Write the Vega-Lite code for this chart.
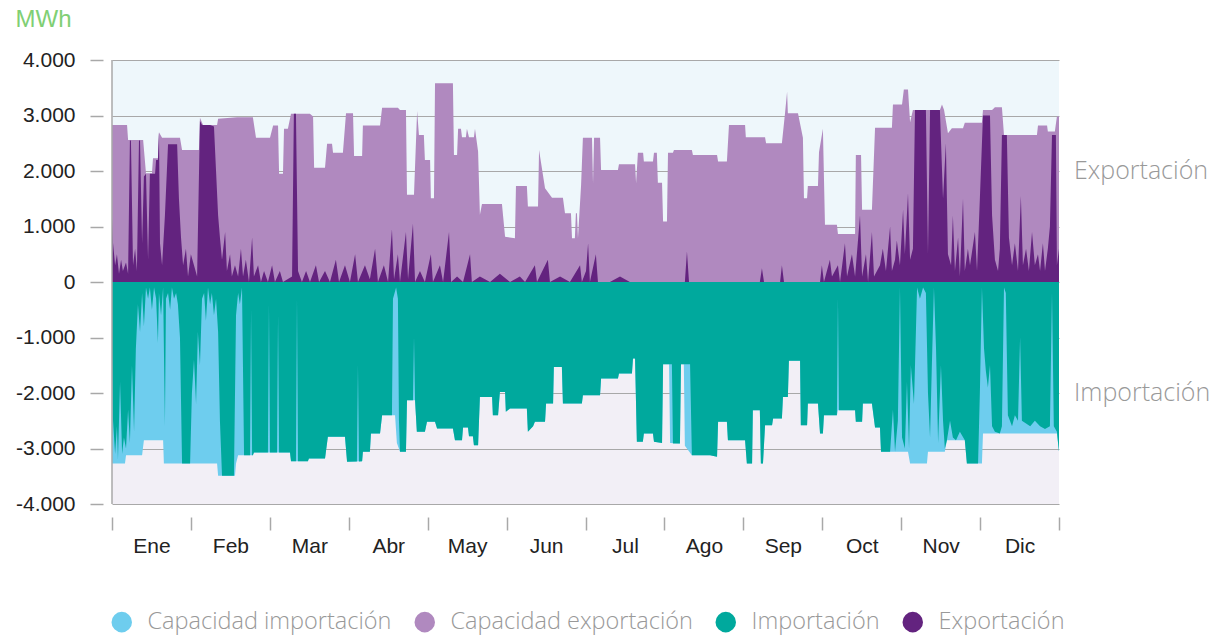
{
  "$schema": "https://vega.github.io/schema/vega-lite/v6.json",
  "width": 947,
  "height": 444,
  "autosize": {"type": "none"},
  "padding": {"left": 112, "top": 60, "right": 172, "bottom": 133},
  "background": "#ffffff",
  "view": {
    "stroke": null,
    "fill": {
      "gradient": "linear", "x1": 0, "y1": 0, "x2": 0, "y2": 1,
      "stops": [
        {"offset": 0, "color": "#eef7fb"},
        {"offset": 0.5, "color": "#eef7fb"},
        {"offset": 0.5, "color": "#f2eff6"},
        {"offset": 1, "color": "#f2eff6"}
      ]
    }
  },
  "config": {
    "font": "Liberation Sans",
    "legend": {
      "orient": "none",
      "legendX": -2,
      "legendY": 550,
      "direction": "horizontal",
      "symbolType": "circle",
      "symbolSize": 420,
      "symbolStrokeWidth": 0,
      "symbolOpacity": 1,
      "labelFont": "Open Sans",
      "labelFontWeight": 300,
      "labelFontSize": 23.5,
      "labelColor": "#999999",
      "labelOffset": 14,
      "columnPadding": 21,
      "labelLimit": 400
    }
  },
  "datasets": {
    "capExp": [
      {"dia":0,"mwh":2830},{"dia":5.8,"mwh":2830},{"dia":6.2,"mwh":2560},{"dia":12.0,"mwh":2560},{"dia":13.1,"mwh":1960},{"dia":15.4,"mwh":1960},{"dia":15.8,"mwh":2230},{"dia":17.7,"mwh":2230},{"dia":18.1,"mwh":2700},{"dia":19.3,"mwh":2600},{"dia":26.2,"mwh":2600},{"dia":27.0,"mwh":2380},{"dia":33.5,"mwh":2380},{"dia":33.9,"mwh":2960},{"dia":35.1,"mwh":2830},{"dia":40.5,"mwh":2830},{"dia":40.9,"mwh":2940},{"dia":48.2,"mwh":2970},{"dia":54.3,"mwh":2970},{"dia":55.5,"mwh":2600},{"dia":60.9,"mwh":2600},{"dia":62.1,"mwh":2820},{"dia":64.0,"mwh":2820},{"dia":64.4,"mwh":1950},{"dia":65.9,"mwh":1950},{"dia":66.3,"mwh":2760},{"dia":67.8,"mwh":2760},{"dia":69.0,"mwh":3030},{"dia":76.3,"mwh":3030},{"dia":77.5,"mwh":2980},{"dia":77.9,"mwh":2060},{"dia":82.1,"mwh":2060},{"dia":82.9,"mwh":2490},{"dia":84.8,"mwh":2490},{"dia":85.2,"mwh":2330},{"dia":89.0,"mwh":2330},{"dia":90.2,"mwh":3040},{"dia":92.9,"mwh":3040},{"dia":93.3,"mwh":2270},{"dia":96.4,"mwh":2270},{"dia":96.7,"mwh":2820},{"dia":103.3,"mwh":2820},{"dia":104.1,"mwh":3140},{"dia":110.2,"mwh":3140},{"dia":111.0,"mwh":3100},{"dia":113.3,"mwh":3100},{"dia":113.7,"mwh":1570},{"dia":116.4,"mwh":1570},{"dia":117.6,"mwh":3080},{"dia":118.3,"mwh":2650},{"dia":120.2,"mwh":2650},{"dia":120.6,"mwh":2200},{"dia":122.6,"mwh":2200},{"dia":122.9,"mwh":1510},{"dia":124.1,"mwh":1510},{"dia":124.5,"mwh":3580},{"dia":131.4,"mwh":3580},{"dia":131.8,"mwh":2290},{"dia":133.0,"mwh":2290},{"dia":133.4,"mwh":2760},{"dia":134.5,"mwh":2760},{"dia":134.9,"mwh":2610},{"dia":136.4,"mwh":2610},{"dia":136.8,"mwh":2760},{"dia":137.6,"mwh":2610},{"dia":139.5,"mwh":2610},{"dia":139.9,"mwh":2760},{"dia":141.1,"mwh":2350},{"dia":141.8,"mwh":1210},{"dia":142.6,"mwh":1405},{"dia":150.3,"mwh":1405},{"dia":151.5,"mwh":815},{"dia":155.3,"mwh":790},{"dia":155.7,"mwh":1730},{"dia":159.9,"mwh":1730},{"dia":160.3,"mwh":1360},{"dia":164.2,"mwh":1360},{"dia":164.6,"mwh":2380},{"dia":166.9,"mwh":1690},{"dia":169.6,"mwh":1520},{"dia":173.8,"mwh":1520},{"dia":174.6,"mwh":1240},{"dia":176.9,"mwh":1240},{"dia":177.3,"mwh":790},{"dia":178.4,"mwh":790},{"dia":178.8,"mwh":1240},{"dia":179.2,"mwh":1240},{"dia":179.6,"mwh":790},{"dia":180.8,"mwh":1750},{"dia":181.5,"mwh":2600},{"dia":185.0,"mwh":2600},{"dia":185.4,"mwh":1780},{"dia":185.8,"mwh":2600},{"dia":188.1,"mwh":2600},{"dia":188.5,"mwh":2020},{"dia":195.0,"mwh":2020},{"dia":195.4,"mwh":2120},{"dia":201.6,"mwh":2120},{"dia":202.0,"mwh":1780},{"dia":202.7,"mwh":2330},{"dia":204.7,"mwh":2330},{"dia":205.0,"mwh":2170},{"dia":208.5,"mwh":2170},{"dia":208.9,"mwh":2330},{"dia":210.0,"mwh":2330},{"dia":210.4,"mwh":1790},{"dia":212.0,"mwh":1790},{"dia":212.4,"mwh":1090},{"dia":213.9,"mwh":1090},{"dia":214.3,"mwh":2330},{"dia":216.2,"mwh":2330},{"dia":216.6,"mwh":2380},{"dia":223.5,"mwh":2380},{"dia":223.9,"mwh":2290},{"dia":233.2,"mwh":2290},{"dia":233.6,"mwh":2170},{"dia":237.0,"mwh":2170},{"dia":237.8,"mwh":2830},{"dia":244.0,"mwh":2830},{"dia":244.3,"mwh":2610},{"dia":251.7,"mwh":2610},{"dia":252.1,"mwh":2500},{"dia":258.2,"mwh":2500},{"dia":259.4,"mwh":3040},{"dia":260.2,"mwh":3430},{"dia":260.5,"mwh":3040},{"dia":264.4,"mwh":3040},{"dia":266.3,"mwh":2600},{"dia":266.7,"mwh":1510},{"dia":267.9,"mwh":1510},{"dia":268.2,"mwh":1730},{"dia":272.1,"mwh":1730},{"dia":272.5,"mwh":2340},{"dia":274.0,"mwh":2760},{"dia":274.8,"mwh":1030},{"dia":279.4,"mwh":1030},{"dia":279.8,"mwh":865},{"dia":286.4,"mwh":865},{"dia":286.7,"mwh":2290},{"dia":288.7,"mwh":2290},{"dia":289.1,"mwh":1300},{"dia":292.9,"mwh":1300},{"dia":294.1,"mwh":2780},{"dia":300.6,"mwh":2780},{"dia":301.0,"mwh":3200},{"dia":304.5,"mwh":3200},{"dia":305.2,"mwh":3470},{"dia":306.8,"mwh":3470},{"dia":307.6,"mwh":2880},{"dia":308.7,"mwh":3100},{"dia":319.1,"mwh":3100},{"dia":319.9,"mwh":3200},{"dia":320.7,"mwh":3100},{"dia":322.2,"mwh":2680},{"dia":323.7,"mwh":2770},{"dia":328.0,"mwh":2770},{"dia":328.7,"mwh":2870},{"dia":335.3,"mwh":2870},{"dia":335.7,"mwh":3100},{"dia":339.2,"mwh":3100},{"dia":340.3,"mwh":3150},{"dia":343.0,"mwh":3150},{"dia":343.8,"mwh":2650},{"dia":356.5,"mwh":2650},{"dia":356.9,"mwh":2820},{"dia":360.4,"mwh":2820},{"dia":360.7,"mwh":2710},{"dia":363.4,"mwh":2710},{"dia":364.2,"mwh":2980},{"dia":365,"mwh":2980}
    ],
    "exp": [
      {"dia":0,"mwh":1150},{"dia":0.4,"mwh":700},{"dia":1.2,"mwh":300},{"dia":1.9,"mwh":500},{"dia":2.7,"mwh":150},{"dia":3.5,"mwh":400},{"dia":4.2,"mwh":200},{"dia":5.4,"mwh":350},{"dia":6.2,"mwh":150},{"dia":6.9,"mwh":2550},{"dia":7.3,"mwh":2550},{"dia":8.1,"mwh":300},{"dia":8.9,"mwh":600},{"dia":9.6,"mwh":200},{"dia":10.4,"mwh":2550},{"dia":10.8,"mwh":2550},{"dia":11.6,"mwh":700},{"dia":12.3,"mwh":1900},{"dia":13.1,"mwh":1950},{"dia":13.9,"mwh":400},{"dia":14.6,"mwh":1950},{"dia":16.6,"mwh":1950},{"dia":17.0,"mwh":2200},{"dia":17.7,"mwh":2200},{"dia":18.1,"mwh":2700},{"dia":18.5,"mwh":700},{"dia":19.3,"mwh":300},{"dia":20.4,"mwh":1200},{"dia":21.6,"mwh":2480},{"dia":25.1,"mwh":2480},{"dia":25.8,"mwh":1500},{"dia":26.6,"mwh":800},{"dia":27.4,"mwh":300},{"dia":28.5,"mwh":600},{"dia":29.3,"mwh":100},{"dia":30.4,"mwh":500},{"dia":31.6,"mwh":300},{"dia":32.8,"mwh":100},{"dia":33.9,"mwh":2900},{"dia":34.7,"mwh":2830},{"dia":37.8,"mwh":2830},{"dia":39.3,"mwh":2800},{"dia":40.1,"mwh":2000},{"dia":40.9,"mwh":1200},{"dia":41.6,"mwh":800},{"dia":42.4,"mwh":400},{"dia":43.6,"mwh":900},{"dia":44.3,"mwh":200},{"dia":45.5,"mwh":500},{"dia":46.2,"mwh":100},{"dia":47.4,"mwh":300},{"dia":48.6,"mwh":100},{"dia":49.7,"mwh":600},{"dia":50.5,"mwh":100},{"dia":51.6,"mwh":400},{"dia":52.8,"mwh":0},{"dia":54.0,"mwh":800},{"dia":54.7,"mwh":100},{"dia":56.3,"mwh":300},{"dia":57.4,"mwh":0},{"dia":58.6,"mwh":200},{"dia":60.1,"mwh":0},{"dia":61.7,"mwh":300},{"dia":62.8,"mwh":0},{"dia":64.7,"mwh":200},{"dia":65.9,"mwh":0},{"dia":69.4,"mwh":100},{"dia":70.1,"mwh":3030},{"dia":70.9,"mwh":3030},{"dia":71.7,"mwh":200},{"dia":73.2,"mwh":0},{"dia":74.8,"mwh":200},{"dia":76.3,"mwh":0},{"dia":78.6,"mwh":300},{"dia":79.8,"mwh":0},{"dia":82.1,"mwh":200},{"dia":84.0,"mwh":0},{"dia":86.3,"mwh":400},{"dia":87.5,"mwh":0},{"dia":89.8,"mwh":300},{"dia":91.7,"mwh":0},{"dia":93.7,"mwh":500},{"dia":94.8,"mwh":0},{"dia":97.5,"mwh":300},{"dia":99.4,"mwh":50},{"dia":101.4,"mwh":600},{"dia":102.5,"mwh":0},{"dia":104.8,"mwh":300},{"dia":106.4,"mwh":0},{"dia":107.9,"mwh":950},{"dia":108.7,"mwh":50},{"dia":110.2,"mwh":500},{"dia":111.0,"mwh":0},{"dia":113.3,"mwh":900},{"dia":114.1,"mwh":50},{"dia":116.0,"mwh":1050},{"dia":116.8,"mwh":0},{"dia":118.7,"mwh":200},{"dia":120.6,"mwh":0},{"dia":122.9,"mwh":500},{"dia":123.7,"mwh":0},{"dia":126.4,"mwh":300},{"dia":127.6,"mwh":0},{"dia":129.9,"mwh":900},{"dia":130.7,"mwh":0},{"dia":133.0,"mwh":100},{"dia":135.3,"mwh":0},{"dia":138.0,"mwh":500},{"dia":138.7,"mwh":0},{"dia":141.8,"mwh":100},{"dia":145.7,"mwh":0},{"dia":149.5,"mwh":150},{"dia":153.4,"mwh":0},{"dia":157.2,"mwh":100},{"dia":159.2,"mwh":0},{"dia":163.0,"mwh":300},{"dia":163.8,"mwh":0},{"dia":168.0,"mwh":400},{"dia":168.8,"mwh":0},{"dia":172.7,"mwh":100},{"dia":176.5,"mwh":0},{"dia":180.4,"mwh":300},{"dia":181.1,"mwh":0},{"dia":182.7,"mwh":200},{"dia":183.5,"mwh":700},{"dia":184.2,"mwh":0},{"dia":186.5,"mwh":500},{"dia":187.3,"mwh":0},{"dia":191.9,"mwh":0},{"dia":195.8,"mwh":100},{"dia":199.6,"mwh":0},{"dia":205.4,"mwh":0},{"dia":220.8,"mwh":0},{"dia":221.6,"mwh":550},{"dia":222.4,"mwh":0},{"dia":226.6,"mwh":0},{"dia":234.3,"mwh":0},{"dia":249.7,"mwh":0},{"dia":250.5,"mwh":250},{"dia":251.3,"mwh":0},{"dia":257.5,"mwh":0},{"dia":258.2,"mwh":300},{"dia":259.0,"mwh":0},{"dia":265.2,"mwh":0},{"dia":272.9,"mwh":0},{"dia":273.6,"mwh":300},{"dia":274.4,"mwh":0},{"dia":276.7,"mwh":400},{"dia":277.5,"mwh":100},{"dia":279.8,"mwh":300},{"dia":280.6,"mwh":0},{"dia":282.5,"mwh":700},{"dia":283.3,"mwh":100},{"dia":285.2,"mwh":500},{"dia":286.4,"mwh":100},{"dia":288.3,"mwh":1200},{"dia":289.1,"mwh":100},{"dia":290.6,"mwh":500},{"dia":291.4,"mwh":0},{"dia":292.9,"mwh":900},{"dia":293.7,"mwh":100},{"dia":296.0,"mwh":300},{"dia":297.1,"mwh":600},{"dia":298.3,"mwh":200},{"dia":299.9,"mwh":1000},{"dia":300.6,"mwh":200},{"dia":301.8,"mwh":400},{"dia":302.5,"mwh":750},{"dia":303.7,"mwh":300},{"dia":304.9,"mwh":1300},{"dia":305.6,"mwh":500},{"dia":306.8,"mwh":1600},{"dia":307.6,"mwh":400},{"dia":308.7,"mwh":600},{"dia":309.5,"mwh":3100},{"dia":313.7,"mwh":3100},{"dia":314.5,"mwh":500},{"dia":315.3,"mwh":3100},{"dia":319.1,"mwh":3100},{"dia":320.3,"mwh":1500},{"dia":321.4,"mwh":2500},{"dia":322.2,"mwh":500},{"dia":323.4,"mwh":300},{"dia":324.1,"mwh":1200},{"dia":324.9,"mwh":200},{"dia":326.1,"mwh":800},{"dia":326.8,"mwh":100},{"dia":328.0,"mwh":1500},{"dia":328.7,"mwh":200},{"dia":329.9,"mwh":600},{"dia":330.7,"mwh":300},{"dia":332.6,"mwh":900},{"dia":333.4,"mwh":200},{"dia":334.5,"mwh":1500},{"dia":335.7,"mwh":3000},{"dia":338.4,"mwh":3000},{"dia":339.2,"mwh":1200},{"dia":340.3,"mwh":400},{"dia":341.5,"mwh":200},{"dia":342.2,"mwh":600},{"dia":343.0,"mwh":2650},{"dia":344.9,"mwh":2650},{"dia":345.7,"mwh":800},{"dia":346.9,"mwh":300},{"dia":348.0,"mwh":700},{"dia":349.2,"mwh":200},{"dia":350.3,"mwh":1550},{"dia":351.1,"mwh":300},{"dia":352.3,"mwh":600},{"dia":353.4,"mwh":200},{"dia":354.6,"mwh":900},{"dia":355.7,"mwh":300},{"dia":356.9,"mwh":500},{"dia":357.7,"mwh":200},{"dia":358.8,"mwh":700},{"dia":359.6,"mwh":200},{"dia":360.7,"mwh":600},{"dia":361.5,"mwh":1000},{"dia":362.3,"mwh":2650},{"dia":363.8,"mwh":2650},{"dia":364.2,"mwh":300},{"dia":365,"mwh":600}
    ],
    "capImp": [
      {"dia":0,"mwh":-3270},{"dia":5.0,"mwh":-3270},{"dia":5.4,"mwh":-3120},{"dia":11.6,"mwh":-3120},{"dia":12.3,"mwh":-2850},{"dia":19.7,"mwh":-2850},{"dia":20.0,"mwh":-3270},{"dia":40.5,"mwh":-3270},{"dia":40.9,"mwh":-3490},{"dia":47.4,"mwh":-3490},{"dia":47.8,"mwh":-3270},{"dia":48.6,"mwh":-3120},{"dia":54.3,"mwh":-3120},{"dia":54.7,"mwh":-3070},{"dia":68.6,"mwh":-3070},{"dia":69.0,"mwh":-3230},{"dia":75.5,"mwh":-3230},{"dia":75.9,"mwh":-3180},{"dia":82.1,"mwh":-3180},{"dia":83.2,"mwh":-2790},{"dia":89.8,"mwh":-2790},{"dia":90.6,"mwh":-3240},{"dia":96.4,"mwh":-3230},{"dia":96.7,"mwh":-3060},{"dia":99.4,"mwh":-3060},{"dia":99.8,"mwh":-2730},{"dia":103.3,"mwh":-2730},{"dia":104.1,"mwh":-2400},{"dia":109.1,"mwh":-2400},{"dia":109.8,"mwh":-2900},{"dia":111.0,"mwh":-3060},{"dia":113.3,"mwh":-3060},{"dia":113.7,"mwh":-2130},{"dia":116.8,"mwh":-2130},{"dia":117.5,"mwh":-2700},{"dia":120.6,"mwh":-2700},{"dia":121.4,"mwh":-2520},{"dia":124.5,"mwh":-2520},{"dia":125.3,"mwh":-2640},{"dia":131.4,"mwh":-2640},{"dia":132.2,"mwh":-2850},{"dia":134.9,"mwh":-2850},{"dia":135.3,"mwh":-2620},{"dia":137.2,"mwh":-2620},{"dia":137.6,"mwh":-2780},{"dia":139.1,"mwh":-2780},{"dia":139.5,"mwh":-2940},{"dia":141.1,"mwh":-2940},{"dia":141.8,"mwh":-2070},{"dia":146.5,"mwh":-2070},{"dia":146.8,"mwh":-2400},{"dia":148.8,"mwh":-2400},{"dia":149.5,"mwh":-1980},{"dia":151.5,"mwh":-1980},{"dia":151.8,"mwh":-2340},{"dia":153.4,"mwh":-2280},{"dia":159.9,"mwh":-2280},{"dia":160.3,"mwh":-2700},{"dia":162.3,"mwh":-2600},{"dia":163.0,"mwh":-2520},{"dia":166.9,"mwh":-2520},{"dia":167.3,"mwh":-2190},{"dia":170.0,"mwh":-2190},{"dia":170.3,"mwh":-1530},{"dia":173.4,"mwh":-1530},{"dia":173.8,"mwh":-2190},{"dia":181.1,"mwh":-2190},{"dia":181.5,"mwh":-2040},{"dia":188.1,"mwh":-2040},{"dia":188.5,"mwh":-1740},{"dia":195.0,"mwh":-1740},{"dia":195.4,"mwh":-1650},{"dia":200.4,"mwh":-1650},{"dia":200.8,"mwh":-1380},{"dia":201.6,"mwh":-1380},{"dia":202.3,"mwh":-2880},{"dia":204.6,"mwh":-2880},{"dia":205.0,"mwh":-2730},{"dia":208.5,"mwh":-2730},{"dia":208.9,"mwh":-2880},{"dia":212.0,"mwh":-2900},{"dia":212.4,"mwh":-1480},{"dia":214.7,"mwh":-1480},{"dia":215.1,"mwh":-2900},{"dia":218.9,"mwh":-2910},{"dia":219.3,"mwh":-1480},{"dia":220.4,"mwh":-1480},{"dia":220.8,"mwh":-2950},{"dia":223.5,"mwh":-3120},{"dia":230.5,"mwh":-3120},{"dia":233.2,"mwh":-3150},{"dia":233.6,"mwh":-2520},{"dia":237.0,"mwh":-2520},{"dia":237.4,"mwh":-2850},{"dia":244.0,"mwh":-2850},{"dia":244.7,"mwh":-3270},{"dia":246.7,"mwh":-3270},{"dia":247.0,"mwh":-2310},{"dia":249.7,"mwh":-2310},{"dia":250.1,"mwh":-3270},{"dia":250.9,"mwh":-3270},{"dia":251.7,"mwh":-2580},{"dia":254.4,"mwh":-2580},{"dia":254.8,"mwh":-2460},{"dia":258.2,"mwh":-2460},{"dia":258.6,"mwh":-2070},{"dia":260.5,"mwh":-2070},{"dia":260.9,"mwh":-1420},{"dia":265.2,"mwh":-1420},{"dia":265.5,"mwh":-2580},{"dia":267.9,"mwh":-2580},{"dia":268.2,"mwh":-2190},{"dia":272.1,"mwh":-2190},{"dia":272.9,"mwh":-2730},{"dia":274.0,"mwh":-2730},{"dia":274.4,"mwh":-2400},{"dia":279.4,"mwh":-2400},{"dia":279.8,"mwh":-2310},{"dia":286.4,"mwh":-2310},{"dia":286.7,"mwh":-2520},{"dia":289.1,"mwh":-2520},{"dia":289.4,"mwh":-2190},{"dia":292.9,"mwh":-2190},{"dia":294.1,"mwh":-2620},{"dia":296.0,"mwh":-2620},{"dia":296.4,"mwh":-3060},{"dia":306.8,"mwh":-3060},{"dia":307.6,"mwh":-3270},{"dia":314.1,"mwh":-3270},{"dia":314.5,"mwh":-3060},{"dia":321.0,"mwh":-3060},{"dia":321.8,"mwh":-2850},{"dia":328.7,"mwh":-2850},{"dia":329.5,"mwh":-3270},{"dia":335.3,"mwh":-3270},{"dia":335.7,"mwh":-2730},{"dia":364.2,"mwh":-2730},{"dia":365,"mwh":-3060}
    ],
    "imp": [
      {"dia":0,"mwh":-1200},{"dia":0.4,"mwh":-2500},{"dia":1.2,"mwh":-3100},{"dia":1.9,"mwh":-2600},{"dia":2.3,"mwh":-3200},{"dia":3.1,"mwh":-1800},{"dia":3.9,"mwh":-3100},{"dia":4.6,"mwh":-2800},{"dia":5.4,"mwh":-3000},{"dia":6.2,"mwh":-2300},{"dia":6.9,"mwh":-2900},{"dia":7.7,"mwh":-1500},{"dia":8.5,"mwh":-2700},{"dia":9.2,"mwh":-1200},{"dia":10.0,"mwh":-400},{"dia":10.8,"mwh":-900},{"dia":11.6,"mwh":-200},{"dia":12.3,"mwh":-800},{"dia":13.1,"mwh":-100},{"dia":13.9,"mwh":-300},{"dia":14.6,"mwh":-100},{"dia":15.4,"mwh":-500},{"dia":16.2,"mwh":-100},{"dia":17.0,"mwh":-300},{"dia":17.7,"mwh":-1100},{"dia":18.1,"mwh":-200},{"dia":18.9,"mwh":-600},{"dia":19.7,"mwh":-100},{"dia":20.4,"mwh":-2600},{"dia":20.8,"mwh":-300},{"dia":21.6,"mwh":-200},{"dia":22.4,"mwh":-500},{"dia":23.1,"mwh":-100},{"dia":23.9,"mwh":-300},{"dia":24.7,"mwh":-200},{"dia":25.4,"mwh":-400},{"dia":26.2,"mwh":-1000},{"dia":27.0,"mwh":-3270},{"dia":30.1,"mwh":-3270},{"dia":30.8,"mwh":-2000},{"dia":31.6,"mwh":-1400},{"dia":32.4,"mwh":-2200},{"dia":33.1,"mwh":-900},{"dia":33.9,"mwh":-1500},{"dia":34.7,"mwh":-300},{"dia":35.5,"mwh":-200},{"dia":36.2,"mwh":-700},{"dia":37.0,"mwh":-100},{"dia":37.8,"mwh":-400},{"dia":38.5,"mwh":-200},{"dia":39.3,"mwh":-600},{"dia":40.1,"mwh":-300},{"dia":40.9,"mwh":-900},{"dia":41.6,"mwh":-2500},{"dia":42.4,"mwh":-3490},{"dia":47.0,"mwh":-3490},{"dia":47.8,"mwh":-600},{"dia":48.6,"mwh":-200},{"dia":49.3,"mwh":-400},{"dia":50.1,"mwh":-100},{"dia":50.9,"mwh":-3120},{"dia":53.2,"mwh":-3120},{"dia":53.6,"mwh":-500},{"dia":54.0,"mwh":-3120},{"dia":54.3,"mwh":-3120},{"dia":54.7,"mwh":-3070},{"dia":60.1,"mwh":-3070},{"dia":60.5,"mwh":-400},{"dia":60.9,"mwh":-3070},{"dia":63.6,"mwh":-3070},{"dia":64.0,"mwh":-600},{"dia":64.4,"mwh":-3070},{"dia":68.6,"mwh":-3070},{"dia":69.0,"mwh":-3230},{"dia":70.9,"mwh":-3230},{"dia":71.3,"mwh":-300},{"dia":71.7,"mwh":-3230},{"dia":75.5,"mwh":-3230},{"dia":75.9,"mwh":-3180},{"dia":82.1,"mwh":-3180},{"dia":83.2,"mwh":-2790},{"dia":89.8,"mwh":-2790},{"dia":90.6,"mwh":-3240},{"dia":94.4,"mwh":-3235},{"dia":94.8,"mwh":-1500},{"dia":95.2,"mwh":-3235},{"dia":96.4,"mwh":-3230},{"dia":96.7,"mwh":-3060},{"dia":99.4,"mwh":-3060},{"dia":99.8,"mwh":-2730},{"dia":103.3,"mwh":-2730},{"dia":104.1,"mwh":-2400},{"dia":107.9,"mwh":-2400},{"dia":108.3,"mwh":-300},{"dia":109.5,"mwh":-100},{"dia":110.2,"mwh":-300},{"dia":110.6,"mwh":-2500},{"dia":111.0,"mwh":-3060},{"dia":113.3,"mwh":-3060},{"dia":113.7,"mwh":-2130},{"dia":116.0,"mwh":-2130},{"dia":116.4,"mwh":-1000},{"dia":116.8,"mwh":-2130},{"dia":117.5,"mwh":-2700},{"dia":120.6,"mwh":-2700},{"dia":121.4,"mwh":-2520},{"dia":124.5,"mwh":-2520},{"dia":125.3,"mwh":-2640},{"dia":131.4,"mwh":-2640},{"dia":132.2,"mwh":-2850},{"dia":134.9,"mwh":-2850},{"dia":135.3,"mwh":-2620},{"dia":137.2,"mwh":-2620},{"dia":137.6,"mwh":-2780},{"dia":139.1,"mwh":-2780},{"dia":139.5,"mwh":-2940},{"dia":141.1,"mwh":-2940},{"dia":141.8,"mwh":-2070},{"dia":146.5,"mwh":-2070},{"dia":146.8,"mwh":-2400},{"dia":148.8,"mwh":-2400},{"dia":149.5,"mwh":-1980},{"dia":151.5,"mwh":-1980},{"dia":151.8,"mwh":-2340},{"dia":153.4,"mwh":-2280},{"dia":159.9,"mwh":-2280},{"dia":160.3,"mwh":-2700},{"dia":162.3,"mwh":-2600},{"dia":163.0,"mwh":-2520},{"dia":166.9,"mwh":-2520},{"dia":167.3,"mwh":-2190},{"dia":170.0,"mwh":-2190},{"dia":170.3,"mwh":-1530},{"dia":173.4,"mwh":-1530},{"dia":173.8,"mwh":-2190},{"dia":181.1,"mwh":-2190},{"dia":181.5,"mwh":-2040},{"dia":188.1,"mwh":-2040},{"dia":188.5,"mwh":-1740},{"dia":195.0,"mwh":-1740},{"dia":195.4,"mwh":-1650},{"dia":200.4,"mwh":-1650},{"dia":200.8,"mwh":-1380},{"dia":201.6,"mwh":-1380},{"dia":202.3,"mwh":-2880},{"dia":204.6,"mwh":-2880},{"dia":205.0,"mwh":-2730},{"dia":208.5,"mwh":-2730},{"dia":208.9,"mwh":-2880},{"dia":212.0,"mwh":-2900},{"dia":212.4,"mwh":-1480},{"dia":215.8,"mwh":-1480},{"dia":216.2,"mwh":-2910},{"dia":218.9,"mwh":-2910},{"dia":219.3,"mwh":-1480},{"dia":222.8,"mwh":-1480},{"dia":223.5,"mwh":-3120},{"dia":230.5,"mwh":-3120},{"dia":233.2,"mwh":-3150},{"dia":233.6,"mwh":-2520},{"dia":237.0,"mwh":-2520},{"dia":237.4,"mwh":-2850},{"dia":244.0,"mwh":-2850},{"dia":244.7,"mwh":-3270},{"dia":246.7,"mwh":-3270},{"dia":247.0,"mwh":-2310},{"dia":249.7,"mwh":-2310},{"dia":250.1,"mwh":-3270},{"dia":250.9,"mwh":-3270},{"dia":251.7,"mwh":-2580},{"dia":254.4,"mwh":-2580},{"dia":254.8,"mwh":-2460},{"dia":258.2,"mwh":-2460},{"dia":258.6,"mwh":-2070},{"dia":260.5,"mwh":-2070},{"dia":260.9,"mwh":-1420},{"dia":265.2,"mwh":-1420},{"dia":265.5,"mwh":-2580},{"dia":267.9,"mwh":-2580},{"dia":268.2,"mwh":-2190},{"dia":272.1,"mwh":-2190},{"dia":272.9,"mwh":-2730},{"dia":274.0,"mwh":-2730},{"dia":274.4,"mwh":-2400},{"dia":279.4,"mwh":-2400},{"dia":279.8,"mwh":-300},{"dia":280.2,"mwh":-2310},{"dia":286.4,"mwh":-2310},{"dia":286.7,"mwh":-2520},{"dia":289.1,"mwh":-2520},{"dia":289.4,"mwh":-2190},{"dia":292.9,"mwh":-2190},{"dia":294.1,"mwh":-2620},{"dia":296.0,"mwh":-2620},{"dia":296.4,"mwh":-3060},{"dia":299.9,"mwh":-3060},{"dia":301.0,"mwh":-2300},{"dia":301.8,"mwh":-3060},{"dia":302.9,"mwh":-2500},{"dia":303.7,"mwh":-100},{"dia":304.5,"mwh":-2800},{"dia":305.6,"mwh":-3000},{"dia":306.4,"mwh":-1800},{"dia":307.2,"mwh":-3000},{"dia":307.9,"mwh":-1500},{"dia":309.1,"mwh":-2200},{"dia":309.9,"mwh":-800},{"dia":310.3,"mwh":-100},{"dia":311.4,"mwh":-300},{"dia":312.6,"mwh":-100},{"dia":313.7,"mwh":-200},{"dia":314.5,"mwh":-2000},{"dia":315.3,"mwh":-2800},{"dia":316.0,"mwh":-1500},{"dia":316.8,"mwh":-100},{"dia":317.6,"mwh":-1200},{"dia":318.4,"mwh":-2900},{"dia":319.5,"mwh":-1500},{"dia":320.3,"mwh":-2500},{"dia":321.0,"mwh":-3000},{"dia":321.8,"mwh":-2850},{"dia":323.0,"mwh":-2500},{"dia":324.1,"mwh":-2800},{"dia":325.3,"mwh":-2850},{"dia":326.8,"mwh":-2700},{"dia":328.7,"mwh":-2850},{"dia":329.5,"mwh":-3270},{"dia":333.8,"mwh":-3270},{"dia":334.5,"mwh":-2000},{"dia":335.3,"mwh":-100},{"dia":336.1,"mwh":-1200},{"dia":336.8,"mwh":-1600},{"dia":337.6,"mwh":-1900},{"dia":338.4,"mwh":-1500},{"dia":339.2,"mwh":-2600},{"dia":340.3,"mwh":-2700},{"dia":342.2,"mwh":-2730},{"dia":343.0,"mwh":-2600},{"dia":343.8,"mwh":-100},{"dia":344.5,"mwh":-200},{"dia":345.3,"mwh":-2400},{"dia":346.9,"mwh":-2600},{"dia":348.0,"mwh":-2400},{"dia":349.2,"mwh":-2500},{"dia":350.0,"mwh":-1000},{"dia":350.7,"mwh":-2500},{"dia":352.3,"mwh":-2550},{"dia":353.9,"mwh":-2600},{"dia":355.7,"mwh":-2500},{"dia":357.7,"mwh":-2600},{"dia":359.6,"mwh":-2650},{"dia":361.5,"mwh":-2600},{"dia":362.3,"mwh":-200},{"dia":363.0,"mwh":-2600},{"dia":364.2,"mwh":-2700},{"dia":365,"mwh":-3060}
    ]
  },
  "layer": [
    {
      "data": {"name": "capExp"},
      "mark": {"type": "area", "interpolate": "linear"},
      "encoding": {
        "x": {
          "field": "dia", "type": "quantitative", "title": null,
          "scale": {"domain": [0, 365], "nice": false, "zero": false},
          "axis": {
            "values": [0, 30.4167, 60.8333, 91.25, 121.6667, 152.0833, 182.5, 212.9167, 243.3333, 273.75, 304.1667, 334.5833, 365],
            "labelExpr": "['Ene','Feb','Mar','Abr','May','Jun','Jul','Ago','Sep','Oct','Nov','Dic',''][round(datum.value / 30.4167)]",
            "offset": 13,
            "tickSize": 13,
            "tickColor": "#a8a8a8",
            "tickWidth": 1.5,
            "domain": false,
            "grid": false,
            "labelOffset": 39.5,
            "labelAlign": "center",
            "labelPadding": 5,
            "labelFontSize": 21,
            "labelColor": "#222222",
            "labelFlush": false,
            "labelOverlap": false
          }
        },
        "y": {
          "field": "mwh", "type": "quantitative", "stack": null,
          "scale": {"domain": [-4000, 4000], "nice": false},
          "axis": {
            "values": [-4000, -3000, -2000, -1000, 0, 1000, 2000, 3000, 4000],
            "labelExpr": "replace(replace(format(datum.value, ','), ',', '.'), '\u2212', '-')",
            "offset": 9,
            "tickSize": 13,
            "tickColor": "#a8a8a8",
            "tickWidth": 1.5,
            "domain": false,
            "grid": true,
            "gridColor": "#a8a8a8",
            "gridWidth": 1.2,
            "labelPadding": 15,
            "labelFontSize": 21,
            "labelColor": "#222222",
            "title": "MWh",
            "titleAngle": 0,
            "titleAlign": "left",
            "titleBaseline": "middle",
            "titleX": -88,
            "titleY": -41,
            "titleColor": "#80cf74",
            "titleFont": "Liberation Sans",
            "titleFontWeight": "normal",
            "titleFontSize": 24
          }
        },
        "color": {
          "datum": "Capacidad exportación", "type": "nominal",
          "scale": {
            "domain": ["Capacidad importación", "Capacidad exportación", "Importación", "Exportación"],
            "range": ["#6ecdee", "#b089bf", "#00a99d", "#63237f"]
          },
          "legend": {"title": null}
        }
      }
    },
    {
      "data": {"name": "exp"},
      "mark": {"type": "area", "interpolate": "linear"},
      "encoding": {
        "x": {"field": "dia", "type": "quantitative", "title": null, "scale": {"domain": [0, 365], "nice": false, "zero": false}},
        "y": {"field": "mwh", "type": "quantitative", "stack": null, "title": "MWh", "scale": {"domain": [-4000, 4000], "nice": false}},
        "color": {"datum": "Exportación", "type": "nominal"}
      }
    },
    {
      "data": {"name": "capImp"},
      "mark": {"type": "area", "interpolate": "linear"},
      "encoding": {
        "x": {"field": "dia", "type": "quantitative", "title": null, "scale": {"domain": [0, 365], "nice": false, "zero": false}},
        "y": {"field": "mwh", "type": "quantitative", "stack": null, "title": "MWh", "scale": {"domain": [-4000, 4000], "nice": false}},
        "color": {"datum": "Capacidad importación", "type": "nominal"}
      }
    },
    {
      "data": {"name": "imp"},
      "mark": {"type": "area", "interpolate": "linear"},
      "encoding": {
        "x": {"field": "dia", "type": "quantitative", "title": null, "scale": {"domain": [0, 365], "nice": false, "zero": false}},
        "y": {"field": "mwh", "type": "quantitative", "stack": null, "title": "MWh", "scale": {"domain": [-4000, 4000], "nice": false}},
        "color": {"datum": "Importación", "type": "nominal"}
      }
    },
    {
      "data": {"values": [{"dia": 0}]},
      "mark": {"type": "rule", "color": "#a8a8a8", "strokeWidth": 1.5},
      "encoding": {
        "x": {"field": "dia", "type": "quantitative", "title": null, "scale": {"domain": [0, 365], "nice": false, "zero": false}}
      }
    },
    {
      "data": {"values": [{"dia": 365, "mwh": 2000, "rotulo": "Exportación"}, {"dia": 365, "mwh": -2000, "rotulo": "Importación"}]},
      "mark": {"type": "text", "align": "left", "baseline": "middle", "dx": 15, "font": "Open Sans", "fontWeight": 300, "fontSize": 25, "color": "#999999"},
      "encoding": {
        "x": {"field": "dia", "type": "quantitative", "title": null, "scale": {"domain": [0, 365], "nice": false, "zero": false}},
        "y": {"field": "mwh", "type": "quantitative", "title": "MWh", "scale": {"domain": [-4000, 4000], "nice": false}},
        "text": {"field": "rotulo"}
      }
    }
  ]
}
